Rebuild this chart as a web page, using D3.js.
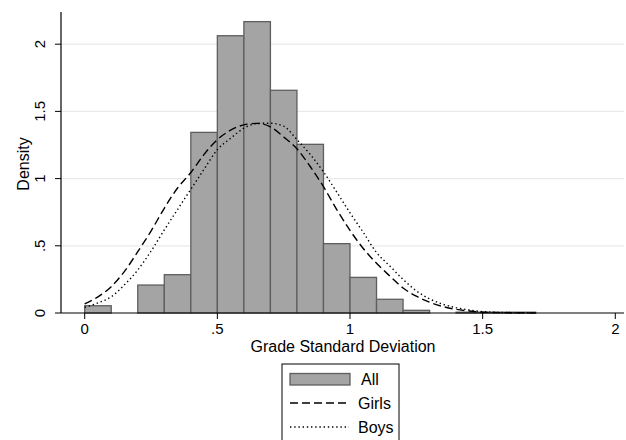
<!DOCTYPE html>
<html>
<head>
<meta charset="utf-8">
<script src="https://cdn.jsdelivr.net/npm/d3@7"></script>
<style>
  body { margin: 0; background: #fff; }
  text { font-family: "Liberation Sans", Arial, sans-serif; fill: #000; }
</style>
</head>
<body>
<script>
// histogram bins (left edge, width 0.1) and their densities
const binStart = [0, 0.1, 0.2, 0.3, 0.4, 0.5, 0.6, 0.7, 0.8, 0.9, 1.0, 1.1, 1.2, 1.3, 1.4, 1.5, 1.6];
const binDensity = [0.054, 0, 0.208, 0.285, 1.344, 2.063, 2.168, 1.657, 1.255, 0.516, 0.265, 0.102, 0.02, 0, 0.006, 0.006, 0.006];

// overlaid density curves
const curveX = [0, 0.05, 0.1, 0.15, 0.2, 0.25, 0.3, 0.35, 0.4, 0.45, 0.5, 0.55, 0.6, 0.65, 0.7, 0.75, 0.8, 0.85, 0.9, 0.95, 1.0, 1.05, 1.1, 1.15, 1.2, 1.25, 1.3, 1.35, 1.4, 1.45, 1.5, 1.6, 1.7];
const girls = [0.067, 0.12, 0.196, 0.31, 0.456, 0.61, 0.779, 0.93, 1.045, 1.18, 1.29, 1.36, 1.40, 1.411, 1.385, 1.31, 1.222, 1.09, 0.94, 0.77, 0.615, 0.48, 0.37, 0.275, 0.186, 0.125, 0.08, 0.048, 0.027, 0.015, 0.006, 0.002, 0.0005];
const boys = [0.042, 0.075, 0.121, 0.21, 0.32, 0.46, 0.618, 0.77, 0.92, 1.07, 1.215, 1.30, 1.375, 1.41, 1.412, 1.39, 1.29, 1.18, 1.05, 0.90, 0.745, 0.60, 0.45, 0.35, 0.25, 0.165, 0.105, 0.065, 0.04, 0.022, 0.01, 0.003, 0.001];

const xTicks = [0, 0.5, 1, 1.5, 2];
const yTicks = [0, 0.5, 1, 1.5, 2];
const fmt = d => d === 0 ? "0" : String(d).replace(/^0\./, ".");

const W = 626, H = 440;
const svg = d3.select("body").append("svg").attr("width", W).attr("height", H);

// plot area
const axisX = 61, axisY = 313, plotRight = 624, plotTop = 12;
const x = d3.scaleLinear().domain([0, 2]).range([84.7, 615.3]);
const y = d3.scaleLinear().domain([0, 2]).range([axisY, 44.2]);

// gridlines
svg.append("g").selectAll("line")
  .data(yTicks.filter(d => d > 0))
  .enter().append("line")
  .attr("x1", axisX).attr("x2", plotRight)
  .attr("y1", d => y(d)).attr("y2", d => y(d))
  .attr("stroke", "#eaeaea").attr("stroke-width", 1.2);

// histogram bars
svg.append("g").selectAll("rect")
  .data(binStart.map((s, i) => ({s: s, d: binDensity[i]})).filter(b => b.d > 0))
  .enter().append("rect")
  .attr("x", b => x(b.s))
  .attr("y", b => y(b.d))
  .attr("width", b => x(b.s + 0.1) - x(b.s))
  .attr("height", b => axisY - y(b.d))
  .attr("fill", "#a4a4a4")
  .attr("stroke", "#5e5e5e")
  .attr("stroke-width", 1.3);

// curves
const line = d3.line().x(d => x(d[0])).y(d => y(d[1])).curve(d3.curveMonotoneX);
svg.append("path")
  .datum(curveX.map((v, i) => [v, girls[i]]))
  .attr("d", line).attr("fill", "none")
  .attr("stroke", "#000").attr("stroke-width", 1.4)
  .attr("stroke-dasharray", "8,4");
svg.append("path")
  .datum(curveX.map((v, i) => [v, boys[i]]))
  .attr("d", line).attr("fill", "none")
  .attr("stroke", "#000").attr("stroke-width", 1.4)
  .attr("stroke-dasharray", "1.4,2.8");

// axes
svg.append("line").attr("x1", axisX).attr("x2", axisX).attr("y1", plotTop).attr("y2", axisY)
  .attr("stroke", "#000").attr("stroke-width", 1.2);
svg.append("line").attr("x1", axisX).attr("x2", plotRight).attr("y1", axisY).attr("y2", axisY)
  .attr("stroke", "#000").attr("stroke-width", 1.2);

const yt = svg.append("g").selectAll("g").data(yTicks).enter().append("g");
yt.append("line").attr("x1", axisX - 6).attr("x2", axisX)
  .attr("y1", d => y(d)).attr("y2", d => y(d)).attr("stroke", "#000");
yt.append("text")
  .attr("transform", d => "translate(45," + y(d) + ") rotate(-90)")
  .attr("text-anchor", "middle")
  .style("font-size", "15px")
  .text(fmt);

const xt = svg.append("g").selectAll("g").data(xTicks).enter().append("g");
xt.append("line").attr("y1", axisY).attr("y2", axisY + 6)
  .attr("x1", d => x(d)).attr("x2", d => x(d)).attr("stroke", "#000");
xt.append("text")
  .attr("x", d => x(d)).attr("y", 334)
  .attr("text-anchor", "middle")
  .style("font-size", "15px")
  .text(fmt);

svg.append("text")
  .attr("x", 343).attr("y", 352)
  .attr("text-anchor", "middle")
  .style("font-size", "16px")
  .text("Grade Standard Deviation");

svg.append("text")
  .attr("transform", "translate(29,164) rotate(-90)")
  .attr("text-anchor", "middle")
  .style("font-size", "16px")
  .text("Density");

// legend
const lg = svg.append("g");
lg.append("rect").attr("x", 282).attr("y", 364).attr("width", 117).attr("height", 90)
  .attr("fill", "#fff").attr("stroke", "#000").attr("stroke-width", 1);
lg.append("rect").attr("x", 290).attr("y", 373.5).attr("width", 60).attr("height", 11.5)
  .attr("fill", "#a4a4a4").attr("stroke", "#5e5e5e").attr("stroke-width", 1.3);
lg.append("line").attr("x1", 290).attr("x2", 349).attr("y1", 403).attr("y2", 403)
  .attr("stroke", "#000").attr("stroke-width", 1.4).attr("stroke-dasharray", "8,4");
lg.append("line").attr("x1", 290).attr("x2", 349).attr("y1", 427).attr("y2", 427)
  .attr("stroke", "#000").attr("stroke-width", 1.4).attr("stroke-dasharray", "1.4,2.8");
const labels = ["All", "Girls", "Boys"];
lg.selectAll("text.leg").data(labels).enter().append("text")
  .attr("class", "leg")
  .attr("x", d => d === "All" ? 361 : 358)
  .attr("y", (d, i) => [385, 409, 433][i])
  .style("font-size", "16px")
  .text(d => d);
</script>
</body>
</html>
